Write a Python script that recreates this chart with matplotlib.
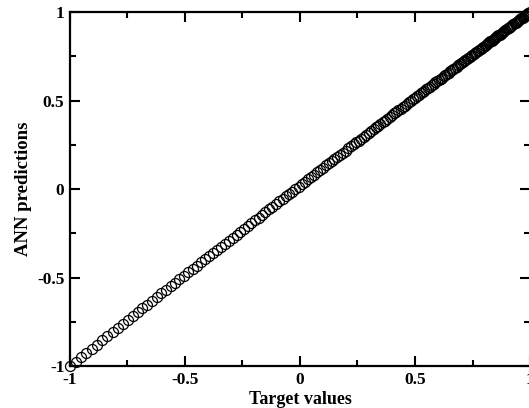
import matplotlib
matplotlib.use("Agg")
import matplotlib.pyplot as plt
from matplotlib.ticker import MultipleLocator

# target values fed to the network
target = [
    -1.000, -0.976, -0.952, -0.929, -0.906, -0.883, -0.860, -0.837, -0.815, -0.793,
    -0.771, -0.749, -0.727, -0.706, -0.685, -0.664, -0.643, -0.623, -0.603, -0.583,
    -0.563, -0.543, -0.524, -0.505, -0.486, -0.467, -0.449, -0.431, -0.413, -0.395,
    -0.377, -0.360, -0.343, -0.326, -0.309, -0.292, -0.275, -0.259, -0.243, -0.227,
    -0.211, -0.195, -0.180, -0.165, -0.150, -0.135, -0.120, -0.105, -0.090, -0.076,
    -0.062, -0.048, -0.034, -0.020, -0.006, 0.008, 0.022, 0.035, 0.048, 0.061,
    0.074, 0.087, 0.100, 0.113, 0.126, 0.138, 0.150, 0.162, 0.174, 0.186,
    0.198, 0.210, 0.222, 0.233, 0.244, 0.255, 0.266, 0.277, 0.288, 0.299,
    0.310, 0.320, 0.330, 0.340, 0.350, 0.360, 0.370, 0.380, 0.390, 0.400,
    0.410, 0.419, 0.428, 0.437, 0.446, 0.455, 0.464, 0.473, 0.482, 0.491,
    0.500, 0.509, 0.517, 0.525, 0.533, 0.541, 0.549, 0.557, 0.565, 0.573,
    0.581, 0.589, 0.597, 0.604, 0.611, 0.618, 0.625, 0.632, 0.639, 0.646,
    0.653, 0.660, 0.667, 0.674, 0.681, 0.688, 0.695, 0.701, 0.707, 0.713,
    0.719, 0.725, 0.731, 0.737, 0.743, 0.749, 0.755, 0.761, 0.767, 0.773,
    0.779, 0.785, 0.791, 0.797, 0.803, 0.808, 0.813, 0.818, 0.823, 0.828,
    0.833, 0.838, 0.843, 0.848, 0.853, 0.858, 0.863, 0.868, 0.873, 0.878,
    0.883, 0.888, 0.893, 0.898, 0.903, 0.908, 0.913, 0.918, 0.923, 0.928,
    0.933, 0.938, 0.943, 0.948, 0.953, 0.958, 0.963, 0.968, 0.973, 0.978,
    0.983, 0.988, 0.993, 0.997, 1.000,
]

# what the ANN returned for each target
predicted = [
    -1.000, -0.975, -0.950, -0.926, -0.902, -0.879, -0.855, -0.831, -0.808, -0.786,
    -0.763, -0.740, -0.718, -0.696, -0.674, -0.653, -0.631, -0.611, -0.590, -0.570,
    -0.549, -0.529, -0.510, -0.490, -0.471, -0.451, -0.433, -0.415, -0.396, -0.378,
    -0.360, -0.343, -0.325, -0.308, -0.291, -0.274, -0.257, -0.240, -0.224, -0.208,
    -0.192, -0.176, -0.161, -0.146, -0.130, -0.115, -0.100, -0.085, -0.070, -0.056,
    -0.042, -0.028, -0.014, 0.000, 0.014, 0.028, 0.042, 0.055, 0.068, 0.081,
    0.094, 0.107, 0.120, 0.133, 0.146, 0.158, 0.170, 0.181, 0.193, 0.205,
    0.217, 0.229, 0.241, 0.252, 0.263, 0.274, 0.285, 0.296, 0.306, 0.317,
    0.328, 0.338, 0.348, 0.358, 0.368, 0.377, 0.387, 0.397, 0.407, 0.417,
    0.427, 0.436, 0.444, 0.453, 0.462, 0.471, 0.480, 0.489, 0.497, 0.506,
    0.515, 0.524, 0.532, 0.540, 0.547, 0.555, 0.563, 0.571, 0.579, 0.586,
    0.594, 0.602, 0.610, 0.617, 0.623, 0.630, 0.637, 0.644, 0.651, 0.658,
    0.665, 0.671, 0.678, 0.685, 0.692, 0.699, 0.705, 0.711, 0.717, 0.723,
    0.729, 0.734, 0.740, 0.746, 0.752, 0.758, 0.764, 0.769, 0.775, 0.781,
    0.787, 0.793, 0.798, 0.804, 0.810, 0.815, 0.820, 0.825, 0.829, 0.834,
    0.839, 0.844, 0.849, 0.854, 0.858, 0.863, 0.868, 0.873, 0.878, 0.883,
    0.887, 0.892, 0.897, 0.902, 0.907, 0.912, 0.916, 0.921, 0.926, 0.931,
    0.936, 0.940, 0.945, 0.950, 0.955, 0.960, 0.964, 0.969, 0.974, 0.979,
    0.984, 0.988, 0.993, 0.997, 1.000,
]

xticks = [-1, -0.5, 0, 0.5, 1]
xtick_labels = ["-1", "-0.5", "0", "0.5", "1"]
yticks = [-1, -0.5, 0, 0.5, 1]
ytick_labels = ["-1", "-0.5", "0", "0.5", "1"]

plt.rcParams['font.family'] = ['Liberation Serif', 'DejaVu Serif']
plt.rcParams['font.weight'] = 'bold'

fig = plt.figure(figsize=(5.29, 4.08), dpi=100)
# axes run slightly past the right edge of the figure
ax = fig.add_axes([0.1323, 0.1029, 0.8696, 0.8676])

ax.plot(target, predicted, linestyle='none', marker='o', markersize=7.2,
        markerfacecolor='none', markeredgecolor='black', markeredgewidth=0.9,
        clip_on=False, zorder=3)

ax.set_xlim(-1, 1)
ax.set_ylim(-1, 1)

ax.set_xticks(xticks)
ax.set_xticklabels(xtick_labels)
ax.set_yticks(yticks)
ax.set_yticklabels(ytick_labels)
ax.xaxis.set_minor_locator(MultipleLocator(0.25))
ax.yaxis.set_minor_locator(MultipleLocator(0.25))

ax.tick_params(which='both', direction='in', top=True, right=True,
               width=1.5, labelsize=12.5, pad=4)
ax.tick_params(which='major', length=7)
ax.tick_params(which='minor', length=4)
for lab in ax.get_xticklabels() + ax.get_yticklabels():
    lab.set_fontweight('bold')

for sp in ax.spines.values():
    sp.set_linewidth(1.6)

ax.set_xlabel("Target values", fontsize=13, fontweight='bold', labelpad=2.5)
ax.set_ylabel("ANN predictions", fontsize=13.5, fontweight='bold', labelpad=4)

fig.savefig("out.png", dpi=100)
